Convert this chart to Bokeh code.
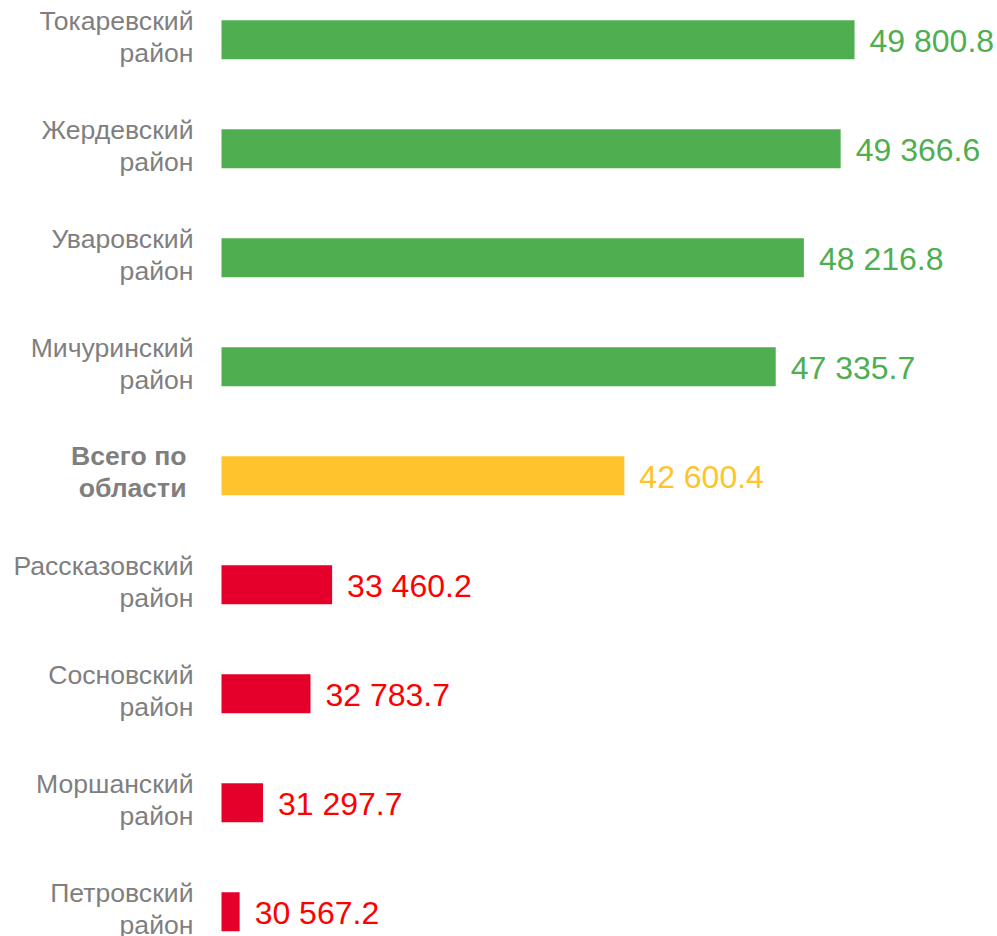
from bokeh.plotting import figure
from bokeh.models import ColumnDataSource, Range1d
from bokeh.core.properties import value
from bokeh.embed import file_html
from bokeh.resources import INLINE

categories = ["Токаревский\nрайон", "Жердевский\nрайон", "Уваровский\nрайон",
              "Мичуринский\nрайон", "Всего по\nобласти", "Рассказовский\nрайон",
              "Сосновский\nрайон", "Моршанский\nрайон", "Петровский\nрайон"]
values = [49800.8, 49366.6, 48216.8, 47335.7, 42600.4, 33460.2, 32783.7, 31297.7, 30567.2]
value_labels = ["49 800.8", "49 366.6", "48 216.8", "47 335.7", "42 600.4",
                "33 460.2", "32 783.7", "31 297.7", "30 567.2"]
groups = ["top", "top", "top", "top", "total", "low", "low", "low", "low"]

bar_colors = {"top": "#4FAE50", "total": "#FFC32C", "low": "#E4002B"}
text_colors = {"top": "#4FAE50", "total": "#FFC32C", "low": "#FF0000"}

BASE = 30000.0
W, H = 997, 936

rows = list(range(len(categories)))
src = ColumnDataSource(dict(
    y=rows, left=[BASE] * len(values), right=values,
    cat=categories, lbl=value_labels,
    fill=[bar_colors[g] for g in groups],
    tcol=[text_colors[g] for g in groups],
))
normal_idx = [i for i, g in enumerate(groups) if g != "total"]
bold_idx = [i for i, g in enumerate(groups) if g == "total"]
src_norm = ColumnDataSource(dict(y=[rows[i] for i in normal_idx], x=[BASE] * len(normal_idx),
                                 cat=[categories[i] for i in normal_idx]))
src_bold = ColumnDataSource(dict(y=[rows[i] for i in bold_idx], x=[BASE] * len(bold_idx),
                                 cat=[categories[i] for i in bold_idx]))

# pixel mapping: BASE at x=221, scale ~0.03197 px/unit
ppu = 0.03197
x0 = BASE - 221 / ppu
x1 = BASE + (W - 221) / ppu
row_px = 109.0
top_px = 39.3
y_top = -top_px / row_px
y_bot = (H - top_px) / row_px

p = figure(width=W, height=H, output_backend="svg", toolbar_location=None,
           x_range=Range1d(x0, x1), y_range=Range1d(y_bot, y_top),
           min_border=0, min_border_left=0, min_border_right=0,
           min_border_top=0, min_border_bottom=0)
p.axis.visible = False
p.grid.visible = False
p.outline_line_color = None
p.background_fill_color = "white"
p.border_fill_color = "white"

p.hbar(y="y", left="left", right="right", height=39 / row_px,
       fill_color="fill", line_color=None, source=src)

p.text(x="right", y="y", text="lbl", text_color="tcol", source=src,
       text_font=value("Liberation Sans"), text_font_size="32px",
       text_align="left", text_baseline="middle", x_offset=15, y_offset=1)

p.text(x="x", y="y", text="cat", source=src_norm, text_color="#7F7F7F",
       text_font=value("Liberation Sans"), text_font_size="26.6px",
       text_align="right", text_baseline="middle", x_offset=-28, y_offset=-3,
       text_line_height=1.08)
p.text(x="x", y="y", text="cat", source=src_bold, text_color="#7F7F7F",
       text_font=value("Liberation Sans"), text_font_size="26.6px", text_font_style="bold",
       text_align="right", text_baseline="middle", x_offset=-35, y_offset=-4,
       text_line_height=1.08)

open("out.html", "w").write(file_html(p, INLINE))
